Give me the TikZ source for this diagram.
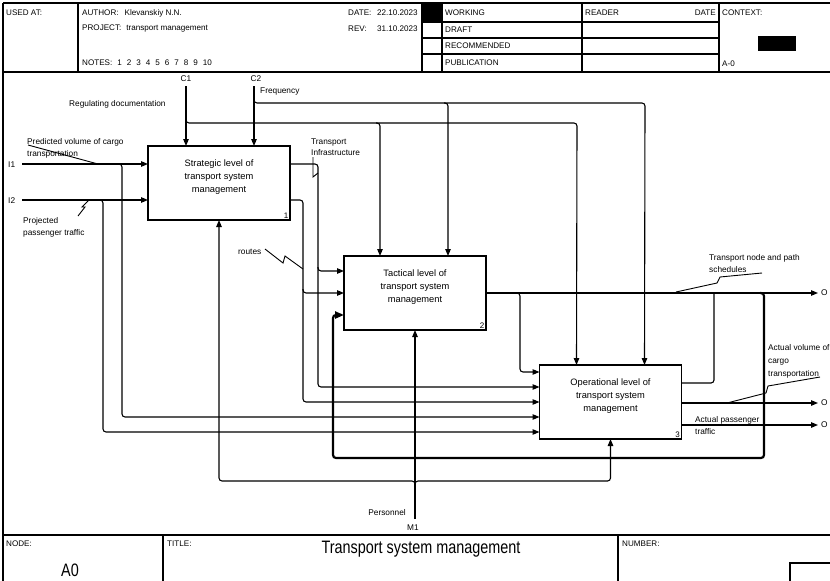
\documentclass[tikz,border=0pt]{standalone}
\usepackage{fontspec}
\setmainfont{Liberation Sans}
\newfontfamily\titlefont[FakeStretch=0.8]{Liberation Sans}
\usetikzlibrary{arrows.meta, calc}

\begin{document}
\begin{tikzpicture}[
    x=1pt, y=-1pt,
    fnbox/.style={
        draw,
        line width=1.2pt,
        minimum width=142pt,
        minimum height=74pt,
        inner sep=0pt,
        outer sep=0pt
    },
    fntext/.style={
        align=center,
        yshift=6pt,
        inner sep=0pt,
        font=\fontsize{9.3}{12.8}\selectfont
    },
    fnnum/.style={
        anchor=south east,
        inner sep=1.5pt,
        font=\fontsize{8}{9}\selectfont
    },
    arr/.style={
        -{Triangle[length=7pt,width=5.5pt]},
        line width=1.1pt,
        rounded corners=3pt
    },
    fbarr/.style={
        arr,
        line width=2.2pt,
        -{Triangle[length=9pt,width=7pt]}
    },
    link/.style={
        line width=1.1pt,
        rounded corners=3pt
    },
    leader/.style={
        line width=0.9pt
    },
    lbl/.style={
        font=\fontsize{8.3}{11.5}\selectfont,
        align=left,
        inner sep=0pt,
        anchor=west
    },
    hdr/.style={
        font=\fontsize{8.1}{9}\selectfont,
        inner sep=0pt,
        anchor=west
    },
    frame/.style={
        line width=1.4pt
    }
]
    \useasboundingbox (0,0) rectangle (830,581);

    % Header
    \draw[frame] (3,3) -- (830,3);
    \draw[frame] (3,3) -- (3,581);
    \draw[frame] (3,72) -- (830,72);
    \draw[line width=2.2pt] (78,3) -- (78,72);
    \draw[frame] (422,3) -- (422,72);
    \draw[frame] (442,3) -- (442,72);
    \draw[frame] (582,3) -- (582,72);
    \draw[frame] (719,3) -- (719,72);
    \foreach \y in {22,38,54}
        \draw[frame] (422,\y) -- (719,\y);
    \fill (422,3) rectangle (442,22);
    \fill (758,36) rectangle (796,51);

    \node[hdr] at (6,13) {USED AT:};
    \node[hdr] at (82,13) {AUTHOR:\hspace{6pt}Klevanskiy N.N.};
    \node[hdr] at (82,29) {PROJECT:\hspace{5pt}transport management};
    \node[hdr] at (82,63) {NOTES:\hspace{5pt}1\hspace{5pt}2\hspace{5pt}3\hspace{5pt}4\hspace{5pt}5\hspace{5pt}6\hspace{5pt}7\hspace{5pt}8\hspace{5pt}9\hspace{5pt}10};
    \node[hdr] at (348,13) {\makebox[29pt][l]{DATE:}22.10.2023};
    \node[hdr] at (348,29) {\makebox[29pt][l]{REV:}31.10.2023};
    \node[hdr] at (445,13) {WORKING};
    \node[hdr] at (445,30) {DRAFT};
    \node[hdr] at (445,46) {RECOMMENDED};
    \node[hdr] at (445,63) {PUBLICATION};
    \node[hdr] at (585,13) {READER};
    \node[hdr, anchor=east] at (716,13) {DATE};
    \node[hdr] at (722,13) {CONTEXT:};
    \node[hdr] at (722,64) {A-0};

    % Footer
    \draw[frame] (3,535) -- (830,535);
    \draw[frame] (163,535) -- (163,581);
    \draw[frame] (618,535) -- (618,581);
    \draw[frame] (790,581) |- (830,563);
    \node[hdr] at (6,544) {NODE:};
    \node[hdr] at (167,544) {TITLE:};
    \node[hdr] at (622,544) {NUMBER:};
    \node[font=\titlefont\fontsize{18}{20}\selectfont] (title) at (421,549) {Transport system management};
    \node[font=\titlefont\fontsize{18}{20}\selectfont] (nodenum) at (70,570) {A0};

    % Function boxes
    \node[fnbox, label={[fntext]center:{Strategic level of\\transport system\\management}},
        label={[fnnum]south east:1}] (strat) at (219,183) {};
    \node[fnbox, label={[fntext]center:{Tactical level of\\transport system\\management}},
        label={[fnnum]south east:2}] (tact) at (415,293) {};
    \node[fnbox, label={[fntext]center:{Operational level of\\transport system\\management}},
        label={[fnnum]south east:3}] (oper) at (610.5,402) {};

    % Boundary ends
    \coordinate (c1) at (186,86);
    \coordinate (c2) at (254,86);
    \coordinate (i1) at (22,164);
    \coordinate (i2) at (22,200);
    \coordinate (m1) at (415,519);
    \coordinate (o1) at (818,293);
    \coordinate (o2) at (818,403);
    \coordinate (o3) at (818,425);
    \coordinate (mechbus) at (0,481);

    % Controls
    \draw[arr] (c1) -- (c1 |- strat.north);
    \draw[arr] (c2) -- (c2 |- strat.north);
    \draw[arr] (186,118) |- (577,123) -- ([xshift=37pt]oper.north west);
    \draw[arr] (376,123) -| ([xshift=36pt]tact.north west);
    \draw[arr] (254,98) |- (645,103) -- ([xshift=105pt]oper.north west);
    \draw[arr] (444,103) -| ([xshift=104pt]tact.north west);

    % Inputs
    \draw[arr] (i1) -- (i1 -| strat.west);
    \draw[arr] (i2) -- (i2 -| strat.west);
    \draw[arr] (118,164) -| (122,417) -- ([yshift=-52pt]oper.north west);
    \draw[arr] (99,200) -| (103,432) -- ([yshift=-67pt]oper.north west);

    % Outputs of box 1
    \draw[arr] ([yshift=-18pt]strat.north east) -| (318,387) -- ([yshift=-22pt]oper.north west);
    \draw[arr] (318,267) |- ([yshift=-15pt]tact.north west);
    \draw[arr] ([yshift=-54pt]strat.north east) -| (303,402) -- ([yshift=-37pt]oper.north west);
    \draw[arr] (303,289) |- (tact.west);

    % Outputs of box 2
    \draw[arr] (tact.east) -- (o1);
    \draw[arr] (516,293) -| (520,372) -- ([yshift=-7pt]oper.north west);

    % Outputs of box 3
    \draw[link] ([yshift=-18pt]oper.north east) -| (714,293);
    \draw[arr] ([yshift=-38pt]oper.north east) -- (o2);
    \draw[arr] ([yshift=-60pt]oper.north east) -- (o3);

    % Feedback
    \draw[fbarr] (760,293) -| (764,458) -| (333,315) -- ([yshift=-59pt]tact.north west);

    % Mechanism
    \draw[arr] (m1) -- (tact.south);
    \draw[arr] (415,486) |- (mechbus -| strat.south) -- (strat.south);
    \draw[arr] (415,486) |- (mechbus -| oper.south) -- (oper.south);

    % Arrow labels
    \node[lbl, anchor=center] (c1lbl) at (186,79) {C1};
    \node[lbl, anchor=center] (c2lbl) at (256,79) {C2};
    \node[lbl] (i1lbl) at (8,165) {I1};
    \node[lbl] (i2lbl) at (8,201) {I2};
    \node[lbl] (regdoc) at (69,104) {Regulating documentation};
    \node[lbl] (freq) at (260,92) {Frequency};
    \node[lbl, anchor=north west] (cargo) at (27,138.5) {Predicted volume of cargo\\transportation};
    \node[lbl, anchor=north west] (pax) at (23,217.5) {Projected\\passenger traffic};
    \node[lbl, anchor=north west] (infra) at (311,138.5) {Transport\\Infrastructure};
    \node[lbl] (routes) at (238,252) {routes};
    \node[lbl, anchor=north west] (sched) at (709,254.5) {Transport node and path\\schedules};
    \node[lbl, anchor=north west, font=\fontsize{8.3}{13}\selectfont] (actcargo) at (768,344.5) {Actual volume of\\cargo\\transportation};
    \node[lbl, anchor=north west] (actpax) at (695,416.5) {Actual passenger\\traffic};
    \node[lbl, anchor=east] (pers) at (406,513) {Personnel};
    \node[lbl, anchor=center] (m1lbl) at (413,528) {M1};
    \node[lbl] (o1lbl) at (821,293) {O};
    \node[lbl] (o2lbl) at (821,403) {O};
    \node[lbl] (o3lbl) at (821,425) {O};

    % Leaders
    \draw[leader] (28,145) -- (98,164);
    \draw[leader] (78,216) -- (85,207) -- (82,207) -- (89,200);
    \draw[leader] (313,157) -- (313,177) -- (318,173);
    \draw[leader] (265,249) -- (283,263) -- (285,256) -- (303,269);
    \draw[leader] (762,273) -- (720,277) -- (717,283) -- (676,292);
    \draw[leader] (820,377) -- (768,386) -- (766,393) -- (727,403);
\end{tikzpicture}
\end{document}
